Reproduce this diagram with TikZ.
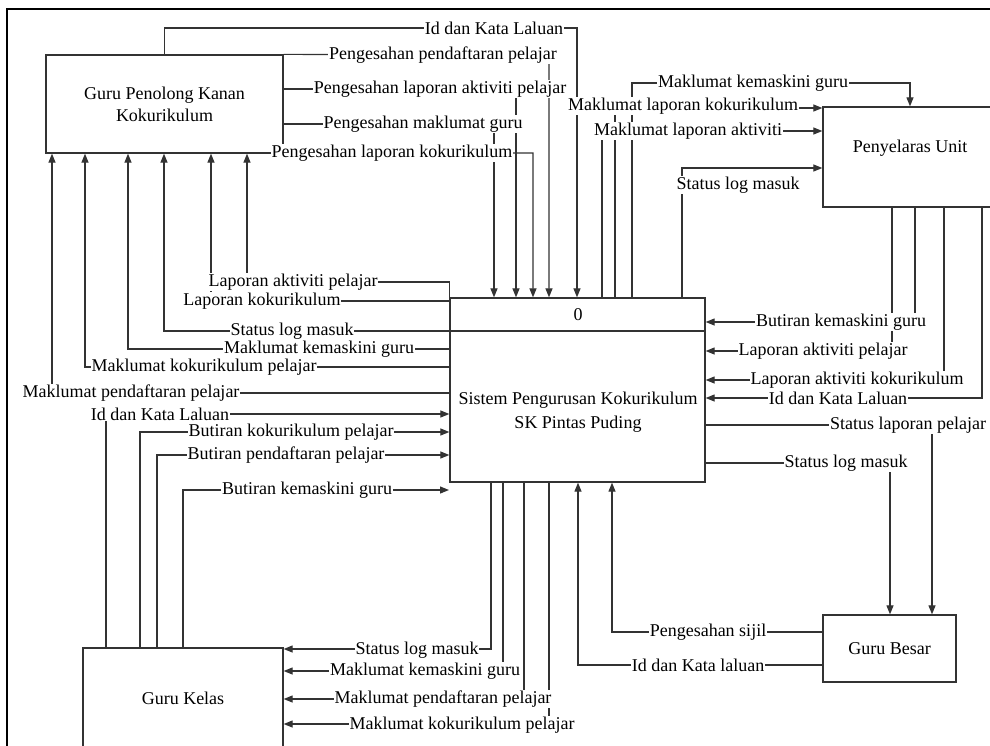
\documentclass[tikz,border=0pt]{standalone}
\usepackage{fontspec}
\setmainfont{Liberation Serif}
\usetikzlibrary{arrows.meta}
\begin{document}
\begin{tikzpicture}[x=1pt,y=-1pt,
  box/.style={draw=black!80, line width=1.3pt, rectangle, inner sep=0pt, align=center, font=\fontsize{18}{22}\selectfont},
  flow/.style={draw=black!80, line width=1.2pt},
  arr/.style={flow, -{Triangle[length=9pt,width=7pt]}},
  lbl/.style={fill=white, inner sep=0.6pt, font=\fontsize{18}{20}\selectfont},
  txt/.style={inner sep=0pt, align=center, font=\fontsize{18}{24}\selectfont}]
\useasboundingbox (0,0) rectangle (990,745);
\clip (0,0) rectangle (990,745);
\draw[line width=2pt] (7,9) rectangle (1005,760);

% boxes
\node[box, minimum width=237, minimum height=98] (gpk) at (164.5,104) {Guru Penolong Kanan\\Kokurikulum};
\node[box, minimum width=255, minimum height=184] (sys) at (577.5,390) {};
\node[txt] (sysno) at (578,315) {0};
\node[txt] (systxt) at (578,412) {Sistem Pengurusan Kokurikulum\\SK Pintas Puding};
\draw[flow, line width=1.3pt] (sys.west |- 0,331) -- (sys.east |- 0,331);
\node[box, minimum width=180, minimum height=100] (pu) at (913,157) {};
\node[txt] (putxt) at (910,148) {Penyelaras Unit};
\node[box, minimum width=133, minimum height=67] (gb) at (889.5,648.5) {Guru Besar};
\node[box, minimum width=200, minimum height=100] (gk) at (183,698) {Guru Kelas};
\coordinate (c25) at (449,490);

% GPK -> SYS
\draw[arr] (gpk.north) |- (577,28) -- (sys.north -| 577,0);
\draw[arr] (gpk.north east) -- (549,55) -- (sys.north -| 549,0);
\draw[arr] (gpk.east |- 0,89) -- (516,89) -- (sys.north -| 516,0);
\draw[arr] (gpk.east |- 0,124) -- (494,124) -- (sys.north -| 494,0);
\draw[arr] (gpk.south east) -- (533,153) -- (sys.north -| 533,0);

% SYS -> PU
\draw[arr] (sys.north -| 632,0) |- (910,83) -- (pu.north -| 910,0);
\draw[arr] (sys.north -| 615,0) |- (pu.west |- 0,108);
\draw[arr] (sys.north -| 602,0) |- (pu.west |- 0,131);
\draw[arr] (sys.north -| 682,0) |- (pu.west |- 0,168);

% PU -> SYS
\draw[arr] (pu.south -| 915,0) |- (sys.east |- 0,322);
\draw[arr] (pu.south -| 892,0) |- (sys.east |- 0,351);
\draw[arr] (pu.south -| 944,0) |- (sys.east |- 0,380);
\draw[arr] (pu.south -| 982,0) |- (sys.east |- 0,398);

% SYS -> GB
\draw[arr] (sys.east |- 0,425) -| (gb.north -| 932,0);
\draw[arr] (sys.east |- 0,463) -| (gb.north -| 890,0);

% GB -> SYS
\draw[arr] (gb.west |- 0,632) -| (sys.south -| 612,0);
\draw[arr] (gb.west |- 0,665) -| (sys.south -| 578,0);

% SYS -> GK
\draw[arr] (sys.south -| 491,0) |- (gk.east |- 0,649);
\draw[arr] (sys.south -| 503,0) |- (gk.east |- 0,671);
\draw[arr] (sys.south -| 524,0) |- (gk.east |- 0,699);
\draw[arr] (sys.south -| 549,0) |- (gk.east |- 0,724);

% GK -> SYS
\draw[arr] (gk.north -| 106,0) |- (sys.west |- 0,414);
\draw[arr] (gk.north -| 140,0) |- (sys.west |- 0,432);
\draw[arr] (gk.north -| 157,0) |- (sys.west |- 0,455);
\draw[arr] (gk.north -| 183,0) |- (c25);

% SYS -> GPK
\draw[arr] (sys.north west) |- (247,282) -- (gpk.south -| 247,0);
\draw[arr] (sys.west |- 0,301) -| (gpk.south -| 211,0);
\draw[arr] (sys.west |- 0,331) -| (gpk.south -| 164,0);
\draw[arr] (sys.west |- 0,349) -| (gpk.south -| 128,0);
\draw[arr] (sys.west |- 0,367) -| (gpk.south -| 85,0);
\draw[arr] (sys.west |- 0,393) -| (gpk.south -| 52,0);

% labels
\node[lbl] (l1) at (494,28) {Id dan Kata Laluan};
\node[lbl] (l2) at (443,55) {Pengesahan pendaftaran pelajar};
\node[lbl] (l3) at (440,89) {Pengesahan laporan aktiviti pelajar};
\node[lbl] (l4) at (423,124) {Pengesahan maklumat guru};
\node[lbl] (l5) at (392,153) {Pengesahan laporan kokurikulum};

\node[lbl] (l6) at (753,83) {Maklumat kemaskini guru};
\node[lbl] (l7) at (683,106) {Maklumat laporan kokurikulum};
\node[lbl] (l8) at (688,131) {Maklumat laporan aktiviti};
\node[lbl] (l9) at (738,185) {Status log masuk};

\node[lbl] (l10) at (841,322) {Butiran kemaskini guru};
\node[lbl] (l11) at (823,351) {Laporan aktiviti pelajar};
\node[lbl] (l12) at (857,380) {Laporan aktiviti kokurikulum};
\node[lbl] (l13) at (838,398) {Id dan Kata Laluan};

\node[lbl] (l14) at (908,425) {Status laporan pelajar};
\node[lbl] (l15) at (846,463) {Status log masuk};
\node[lbl] (l16) at (708,632) {Pengesahan sijil};
\node[lbl] (l17) at (698,665) {Id dan Kata laluan};

\node[lbl] (l18) at (417,650) {Status log masuk};
\node[lbl] (l19) at (425,671) {Maklumat kemaskini guru};
\node[lbl] (l20) at (443,699) {Maklumat pendaftaran pelajar};
\node[lbl] (l21) at (462,725) {Maklumat kokurikulum pelajar};

\node[lbl] (l22) at (160,414) {Id dan Kata Laluan};
\node[lbl] (l23) at (291,432) {Butiran kokurikulum pelajar};
\node[lbl] (l24) at (286,455) {Butiran pendaftaran pelajar};
\node[lbl] (l25) at (307,490) {Butiran kemaskini guru};

\node[lbl] (l26) at (293,282) {Laporan aktiviti pelajar};
\node[lbl] (l27) at (262,301) {Laporan kokurikulum};
\node[lbl] (l28) at (292,331) {Status log masuk};
\node[lbl] (l29) at (319,349) {Maklumat kemaskini guru};
\node[lbl] (l30) at (204,367) {Maklumat kokurikulum pelajar};
\node[lbl] (l31) at (131,393) {Maklumat pendaftaran pelajar};
\end{tikzpicture}
\end{document}
